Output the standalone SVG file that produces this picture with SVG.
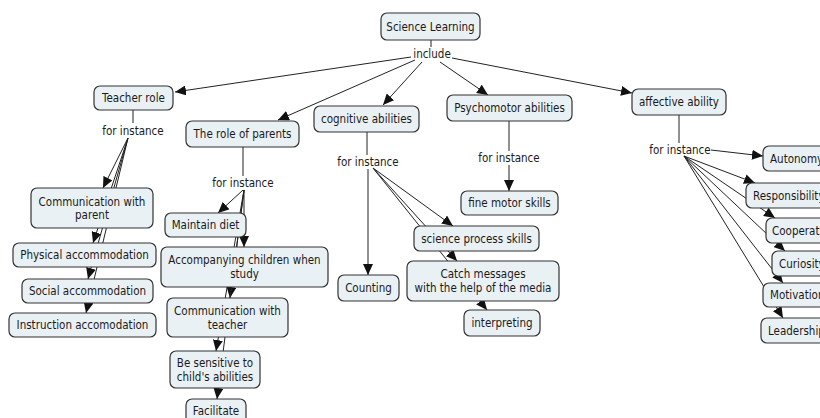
<svg xmlns="http://www.w3.org/2000/svg" width="820" height="418" viewBox="0 0 820 418">
<defs>
<marker id="ah" markerUnits="userSpaceOnUse" markerWidth="11" markerHeight="10" refX="11" refY="5" orient="auto">
<path d="M0,0 L11,5 L0,10 z" fill="#111"/>
</marker>
<style>
.n rect{fill:#eaf1f5;stroke:#333;stroke-width:1.2}
text{font-family:"DejaVu Sans Condensed","DejaVu Sans",sans-serif;font-stretch:condensed;font-size:11.5px;fill:#1a1a1a;text-anchor:middle}
.s{text-anchor:start}
#connectors line{stroke:#222;stroke-width:1;fill:none}
#connectors .a{marker-end:url(#ah)}
</style>
</defs>
<rect width="820" height="418" fill="#fff"/>
<g id="connectors">
<line x1="431" y1="40" x2="431" y2="47"/>
<line class="a" x1="411" y1="57" x2="175" y2="92"/>
<line class="a" x1="415" y1="60" x2="278" y2="120"/>
<line class="a" x1="422" y1="62" x2="383" y2="105"/>
<line class="a" x1="440" y1="62" x2="488" y2="95"/>
<line class="a" x1="452" y1="58" x2="632" y2="93"/>
<line x1="133" y1="110" x2="133" y2="123"/>
<line class="a" x1="128" y1="138" x2="103" y2="188"/>
<line class="a" x1="128" y1="138" x2="93" y2="243"/>
<line class="a" x1="128" y1="138" x2="88" y2="279"/>
<line class="a" x1="128" y1="138" x2="86" y2="313"/>
<line x1="243" y1="147" x2="243" y2="176"/>
<line class="a" x1="243" y1="190" x2="218" y2="213"/>
<line class="a" x1="244" y1="190" x2="244" y2="247"/>
<line class="a" x1="244" y1="190" x2="230" y2="298"/>
<line class="a" x1="244" y1="190" x2="216" y2="351"/>
<line class="a" x1="244" y1="190" x2="217" y2="399"/>
<line x1="367" y1="132" x2="367" y2="155"/>
<line class="a" x1="368" y1="169" x2="368" y2="275"/>
<line class="a" x1="373" y1="168" x2="453" y2="226"/>
<line class="a" x1="373" y1="168" x2="457" y2="261"/>
<line class="a" x1="373" y1="168" x2="487" y2="310"/>
<line x1="509" y1="121" x2="509" y2="151"/>
<line class="a" x1="509" y1="165" x2="509" y2="191"/>
<line x1="679" y1="115" x2="679" y2="143"/>
<line class="a" x1="711" y1="150" x2="763" y2="156"/>
<line class="a" x1="684" y1="156" x2="755" y2="183"/>
<line class="a" x1="684" y1="156" x2="775" y2="218"/>
<line class="a" x1="684" y1="156" x2="785" y2="251"/>
<line class="a" x1="684" y1="156" x2="783" y2="283"/>
<line class="a" x1="684" y1="156" x2="783" y2="318"/>
</g>
<g id="labels">
<text x="432" y="58">include</text>
<text x="133" y="135">for instance</text>
<text x="243" y="187">for instance</text>
<text x="368" y="166">for instance</text>
<text x="509" y="162">for instance</text>
<text x="680" y="154">for instance</text>
</g>
<g id="n-science-learning" class="n"><rect x="381" y="13" width="99" height="27" rx="6"/><text x="430.5" y="30.5">Science Learning</text></g>
<g id="n-teacher-role" class="n"><rect x="94" y="86" width="79" height="24" rx="6"/><text x="133.5" y="102">Teacher role</text></g>
<g id="n-role-of-parents" class="n"><rect x="186" y="121" width="113" height="26" rx="6"/><text x="242.5" y="138">The role of parents</text></g>
<g id="n-cognitive" class="n"><rect x="314" y="106" width="105" height="26" rx="6"/><text x="366.5" y="123">cognitive abilities</text></g>
<g id="n-psychomotor" class="n"><rect x="447" y="95" width="125" height="26" rx="6"/><text x="509.5" y="112">Psychomotor abilities</text></g>
<g id="n-affective" class="n"><rect x="632" y="89" width="94" height="26" rx="6"/><text x="679" y="106">affective ability</text></g>
<g id="n-comm-parent" class="n"><rect x="31" y="188" width="122" height="40" rx="6"/><text x="92" y="205.5">Communication with</text><text x="92" y="219">parent</text></g>
<g id="n-physical" class="n"><rect x="13" y="243" width="143" height="24" rx="6"/><text x="84.5" y="259">Physical accommodation</text></g>
<g id="n-social" class="n"><rect x="22" y="279" width="131" height="24" rx="6"/><text x="87.5" y="295">Social accommodation</text></g>
<g id="n-instruction" class="n"><rect x="9" y="313" width="147" height="24" rx="6"/><text x="82.5" y="329">Instruction accomodation</text></g>
<g id="n-maintain-diet" class="n"><rect x="165" y="213" width="81" height="24" rx="6"/><text x="205.5" y="229">Maintain diet</text></g>
<g id="n-accompanying" class="n"><rect x="161" y="247" width="167" height="40" rx="6"/><text x="244.5" y="264">Accompanying children when</text><text x="244.5" y="278">study</text></g>
<g id="n-comm-teacher" class="n"><rect x="167" y="298" width="121" height="39" rx="6"/><text x="227.5" y="315">Communication with</text><text x="227.5" y="329">teacher</text></g>
<g id="n-be-sensitive" class="n"><rect x="170" y="351" width="90" height="37" rx="6"/><text x="215" y="367">Be sensitive to</text><text x="215" y="381">child's abilities</text></g>
<g id="n-facilitate" class="n"><rect x="186" y="399" width="60" height="25" rx="6"/><text x="216" y="415">Facilitate</text></g>
<g id="n-counting" class="n"><rect x="338" y="275" width="61" height="26" rx="6"/><text x="368.5" y="292">Counting</text></g>
<g id="n-science-process" class="n"><rect x="414" y="226" width="125" height="25" rx="6"/><text x="476.5" y="242.5">science process skills</text></g>
<g id="n-catch-messages" class="n"><rect x="407" y="261" width="152" height="40" rx="6"/><text x="483" y="278">Catch messages</text><text x="483" y="292">with the help of the media</text></g>
<g id="n-interpreting" class="n"><rect x="464" y="310" width="76" height="26" rx="6"/><text x="502" y="327">interpreting</text></g>
<g id="n-fine-motor" class="n"><rect x="461" y="191" width="97" height="24" rx="6"/><text x="509.5" y="207">fine motor skills</text></g>
<g id="n-autonomy" class="n"><rect x="763" y="146" width="72" height="25" rx="6"/><text class="s" x="770" y="162.5">Autonomy</text></g>
<g id="n-responsibility" class="n"><rect x="746" y="183" width="90" height="25" rx="6"/><text class="s" x="753" y="199.5">Responsibility</text></g>
<g id="n-cooperation" class="n"><rect x="766" y="218" width="84" height="25" rx="6"/><text class="s" x="772" y="234.5">Cooperation</text></g>
<g id="n-curiosity" class="n"><rect x="772" y="251" width="64" height="25" rx="6"/><text class="s" x="779" y="267.5">Curiosity</text></g>
<g id="n-motivation" class="n"><rect x="763" y="283" width="78" height="24" rx="6"/><text class="s" x="770" y="299">Motivation</text></g>
<g id="n-leadership" class="n"><rect x="761" y="318" width="76" height="25" rx="6"/><text class="s" x="768" y="334.5">Leadership</text></g>
</svg>
